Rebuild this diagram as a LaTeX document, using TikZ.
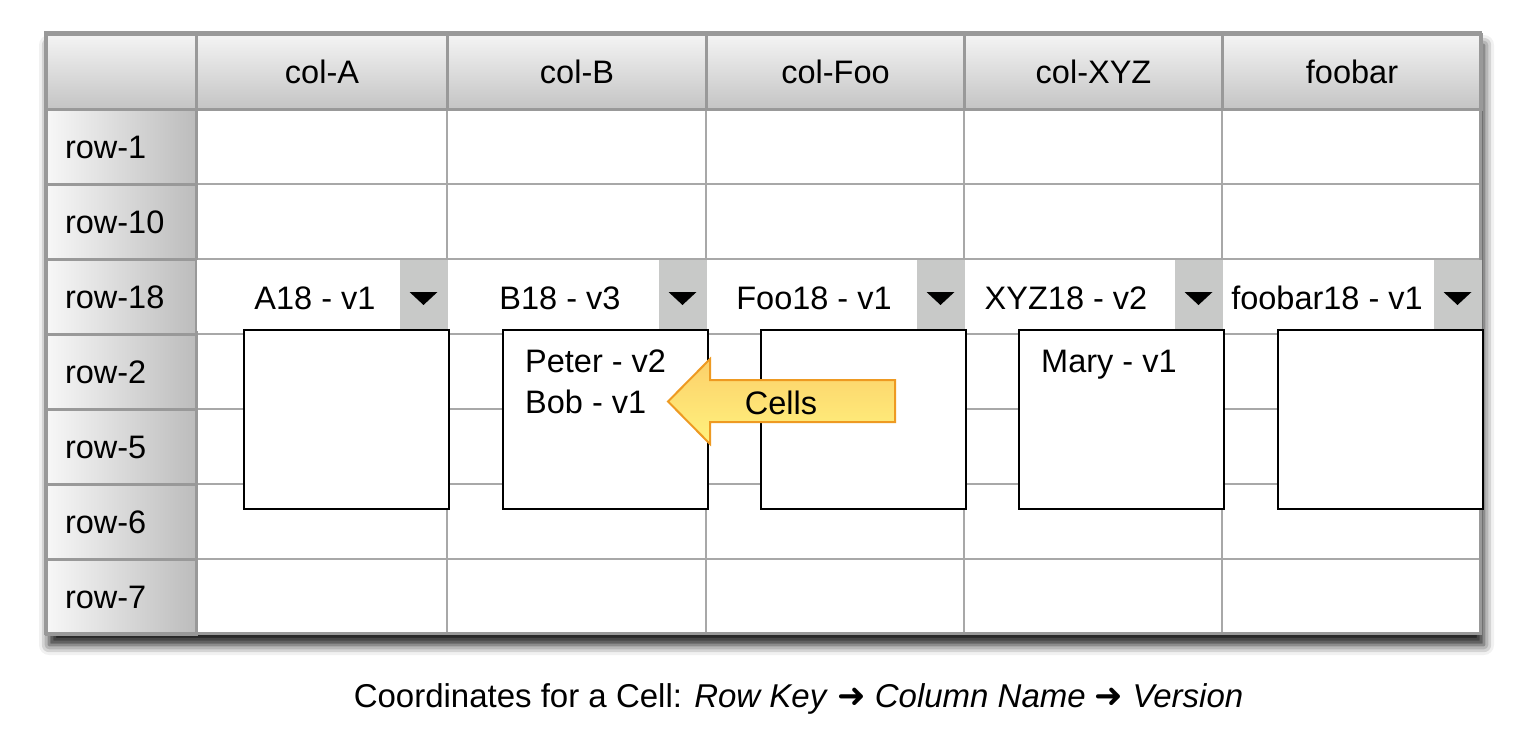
\documentclass[tikz,border=0pt]{standalone}
\usepackage{fontspec}
\setmainfont{Liberation Sans}
\newfontfamily\arrowfont{DejaVu Sans}
\usetikzlibrary{shadows.blur}
\definecolor{gridthin}{HTML}{A8A8A8}
\definecolor{gridthick}{HTML}{999999}
\definecolor{hdrtop}{HTML}{F4F4F4}
\definecolor{hdrbot}{HTML}{C4C4C4}
\definecolor{rowleft}{HTML}{F7F7F7}
\definecolor{rowright}{HTML}{BCBCBC}
\definecolor{dropgray}{HTML}{C8C9C8}
\definecolor{arrtop}{HTML}{FCD06A}
\definecolor{arrbot}{HTML}{FFF27E}
\definecolor{arrline}{HTML}{EE9A22}
\tikzset{
  txt/.style={font=\fontsize{32.5}{36}\selectfont, inner sep=0pt},
  colhead/.style={top color=hdrtop, bottom color=hdrbot, draw=gridthick, line width=3pt,
    minimum height=75pt, inner sep=0pt, anchor=north west, font=\fontsize{32.5}{36}\selectfont},
  rowhead/.style={left color=rowleft, right color=rowright, draw=gridthick, line width=3pt,
    minimum height=75pt, minimum width=150pt, text width=113pt, inner xsep=18pt, align=left,
    anchor=north west, font=\fontsize{32.5}{36}\selectfont},
  bodycell/.style={draw=gridthin, line width=2pt, fill=white, minimum height=75pt,
    inner sep=0pt, anchor=north west},
  cellbox/.style={draw=black, line width=1.5pt, fill=white, minimum width=205pt,
    minimum height=179pt, inner sep=0pt, anchor=north west},
  dropbtn/.style={fill=dropgray},
}
\begin{document}
\begin{tikzpicture}[x=1pt,y=-1pt]
\useasboundingbox (0,0) rectangle (1525,741);
% table shadow
\path[fill=white, blur shadow={shadow xshift=4pt, shadow yshift=-12pt, shadow blur radius=10pt, shadow opacity=90}]
  (45,33) rectangle (1480,633);
% body cells
\foreach \x/\w/\n in {195/251/A, 446/259/B, 705/258/Foo, 963/258/XYZ, 1221/259/foobar}{
  \foreach \y/\r in {108/1, 183/10, 258/18, 333/2, 408/5, 483/6, 558/7}{
    \node[bodycell, minimum width=\w pt] (b-\n-\r) at (\x,\y) {};
  }
}
% header row
\node[colhead, minimum width=150pt] (corner) at (45,33) {};
\foreach \x/\w/\n/\t in {195/251/A/col-A, 446/259/B/col-B, 705/258/Foo/col-Foo, 963/258/XYZ/col-XYZ, 1221/259/foobar/foobar}{
  \node[colhead, minimum width=\w pt] (h-\n) at (\x,33) {\t};
}
% row header column
\foreach \y/\r in {108/1, 183/10, 258/18, 333/2, 408/5, 483/6, 558/7}{
  \node[rowhead] (r-\r) at (45,\y) {row-\r};
}
% outer border
\draw[gridthick, line width=3pt] (45,33) rectangle (1480,633);
% row-18 cells with dropdown
\foreach \x/\w/\n/\t/\tx in {195/251/A/A18 - v1/315, 446/259/B/B18 - v3/560, 705/258/Foo/Foo18 - v1/814, 963/258/XYZ/XYZ18 - v2/1066, 1221/259/foobar/foobar18 - v1/1327}{
  \fill[white] (\x+1.6,259.6) rectangle (\x+\w-46,331.2);
  \fill[dropbtn] (\x+\w-46,259.6) rectangle (\x+\w+1.5,331);
  \fill[black] (\x+\w-36.5,292) -- (\x+\w-8.5,292) -- (\x+\w-22.5,305) -- cycle;
  \node[txt] (v-\n) at (\tx,298) {\t};
}
% cell version boxes
\foreach \x/\w/\n in {195/251/A, 446/259/B, 705/258/Foo, 963/258/XYZ, 1221/259/foobar}{
  \node[cellbox] (box-\n) at (\x+\w-203,329) {};
}
\node[txt, anchor=base west] (peter) at (525,372) {Peter - v2};
\node[txt, anchor=base west] (bob) at (525,413) {Bob - v1};
\node[txt, anchor=base west] (mary) at (1041,372) {Mary - v1};
% Cells arrow
\shadedraw[top color=arrtop, bottom color=arrbot, draw=arrline, line width=2pt, line join=miter]
  (668,401.5) -- (710,359) -- (710,380) -- (895,380) -- (895,422) -- (710,422) -- (710,444) -- cycle;
\node[txt] (cells) at (781,403) {Cells};
% caption
\node[font=\fontsize{33}{36}\selectfont, inner sep=0pt] (caption) at (798.5,699)
  {Coordinates for a Cell: \textit{Row Key} {\arrowfont\fontsize{34}{36}\selectfont ➜} \textit{Column Name} {\arrowfont\fontsize{34}{36}\selectfont ➜} \textit{Version}};
\end{tikzpicture}
\end{document}
